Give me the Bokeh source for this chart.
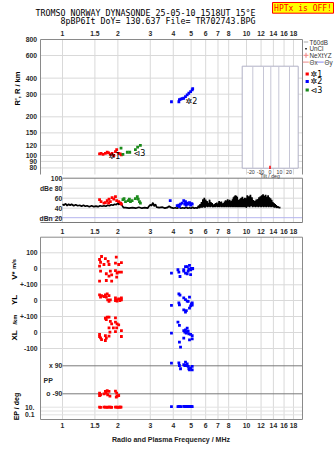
import math
from bokeh.plotting import figure
from bokeh.models import Range1d, LinearScale, LogScale
from bokeh.embed import file_html
from bokeh.resources import INLINE
from bokeh.core.properties import value

# ---------------------------------------------------------------- texts
TITLE_1 = "TROMSO NORWAY   DYNASONDE 25-05-10 1518UT 15°E"
TITLE_2 = "8pBP6It DoY= 130.637 File= TR702743.BPG"
WARNING = "HPTx is OFF!"
X_TITLE = "Radio and Plasma Frequency / MHz"

# ---------------------------------------------------------------- ticks
FREQ_TICKS = [1, 1.5, 2, 3, 4, 5, 6, 7, 8, 10, 12, 14, 16, 18]
FREQ_LABELS = ["1", "1.5", "2", "3", "4", "5", "6", "7", "8", "10", "12", "14", "16", "18"]
R_TICKS = [80, 90, 100, 120, 150, 200, 300, 400, 600, 800]
R_LABELS = ["80", "90", "100", "120", "150", "200", "300", "400", "600", "800"]
DB_TICKS = [100, 80, 60, 40, 20]
DB_LABELS = ["100", "dBe 80", "60", "40", "dBn 20"]
TILT_TICKS = [-20, -10, 0, 10, 20]
TILT_LABELS = ["-20", "-10", "0", "10", "20"]
V_TICKS = [100, 0, -100]
V_LABELS = ["100", "0", "+-100"]
YL_TICKS = [0, -100]
YL_LABELS = ["0", "+-100"]
XL_TICKS = [0, -100]
XL_LABELS = ["0", "-100"]
PP_TICKS = [90, -90]
PP_LABELS = ["x 90", "o -90"]
EP_TICKS = [10, 0.1]
EP_LABELS = ["10.", "0.1"]

# ---------------------------------------------------------------- virtual range R' (km)
E1_F = [1.59, 1.62, 1.66, 1.71, 1.75, 1.78, 1.82, 1.86, 1.90, 1.94, 1.97, 2.02, 2.06, 2.09]
E1_R = [103, 104, 102, 104, 106, 105, 102, 104, 100, 107, 111, 104, 103, 101]
E2_F = [3.91, 4.29, 4.32, 4.40, 4.47, 4.56, 4.66, 4.76, 4.86, 4.97, 5.07, 5.10]
E2_R = [262, 262, 272, 275, 277, 279, 287, 296, 305, 314, 324, 332]
E3_F = [2.08, 2.13, 2.25, 2.32, 2.49, 2.56, 2.65]
E3_R = [114, 102, 106, 106, 111, 116, 120]

# ---------------------------------------------------------------- amplitudes (dB)
NOISE_F_LOW = [1.00, 1.02, 1.04, 1.06, 1.08, 1.10, 1.12, 1.15, 1.18, 1.21, 1.24, 1.27, 1.30,
               1.33, 1.36, 1.40, 1.44, 1.48, 1.52, 1.56, 1.60, 1.64, 1.68, 1.72, 1.76, 1.80,
               1.84, 1.88, 1.92, 1.96, 2.00, 2.03, 2.06, 2.09, 2.12, 2.15, 2.20, 2.30, 2.40,
               2.50, 2.60, 2.70, 2.80, 2.90, 2.95, 3.00, 3.05, 3.10, 3.15, 3.20, 3.25, 3.35,
               3.50, 3.60, 3.70, 3.80, 3.90, 4.00, 4.10, 4.20, 4.30, 4.40, 4.50, 4.60, 4.70,
               4.80, 4.90, 5.00, 5.10, 5.20, 5.30, 5.40]
NOISE_DB_LOW = [48, 46, 49, 45, 48, 46, 48, 45, 47, 45, 46, 44, 46,
                44, 45, 43, 45, 43, 44, 43, 45, 44, 45, 44, 46, 45,
                47, 46, 48, 47, 50, 47, 52, 48, 44, 41, 41, 40, 41,
                40, 42, 40, 41, 40, 44, 47, 45, 51, 44, 48, 42, 41,
                42, 40, 41, 44, 41, 40, 41, 40, 42, 40, 41, 40, 42,
                40, 41, 40, 42, 40, 41, 40]
NOISE_F_MID = [5.50, 5.55, 5.60, 5.65, 5.70, 5.75, 5.80, 5.85, 5.90, 5.95, 6.00, 6.05, 6.10,
               6.15, 6.20, 6.25, 6.30, 6.35, 6.40, 6.45, 6.50, 6.55, 6.60, 6.65, 6.70, 6.75,
               6.80, 6.85, 6.90, 6.95, 7.00, 7.05, 7.10, 7.15, 7.20, 7.25, 7.30, 7.35, 7.40,
               7.45, 7.50, 7.55, 7.60, 7.65, 7.70, 7.75, 7.80, 7.85, 7.90, 7.95, 8.00, 8.05,
               8.10, 8.15, 8.20, 8.25, 8.30, 8.35, 8.40, 8.45, 8.50, 8.55, 8.60, 8.65, 8.70,
               8.75, 8.80, 8.85, 8.90, 8.95, 9.00, 9.05, 9.10, 9.15, 9.20, 9.25, 9.30, 9.35,
               9.40, 9.45, 9.50, 9.55, 9.60, 9.65, 9.70, 9.75, 9.80, 9.85, 9.90, 9.95]
NOISE_DB_MID = [45, 40, 48, 41, 52, 41, 58, 42, 61, 41, 57, 43, 54,
                42, 50, 43, 57, 42, 52, 43, 50, 42, 47, 43, 48, 42,
                50, 43, 51, 42, 48, 43, 54, 42, 52, 43, 53, 42, 49,
                43, 50, 42, 53, 43, 56, 42, 55, 43, 58, 42, 54, 43,
                57, 42, 53, 43, 55, 42, 58, 43, 62, 42, 64, 43, 66,
                42, 65, 43, 63, 42, 57, 43, 55, 42, 58, 43, 60, 42,
                61, 43, 63, 42, 59, 43, 58, 42, 61, 43, 60, 42]
NOISE_F_HIGH = [10.0, 10.1, 10.2, 10.3, 10.4, 10.5, 10.6, 10.7, 10.8, 10.9, 11.0, 11.1, 11.2,
                11.3, 11.4, 11.5, 11.6, 11.7, 11.8, 11.9, 12.0, 12.1, 12.2, 12.3, 12.4, 12.5,
                12.6, 12.7, 12.8, 12.9, 13.0, 13.1, 13.2, 13.3, 13.4, 13.5, 13.6, 13.7, 13.8,
                13.9, 14.0, 14.1, 14.2, 14.3, 14.4, 14.5, 14.6, 14.8, 15.0, 15.3]
NOISE_DB_HIGH = [42, 66, 43, 64, 42, 67, 44, 62, 42, 56, 43, 54, 42,
                 57, 43, 58, 42, 62, 43, 64, 42, 66, 43, 68, 42, 65,
                 43, 67, 42, 63, 43, 66, 42, 62, 43, 60, 42, 57, 43,
                 52, 42, 50, 41, 48, 42, 46, 41, 43, 41, 41]
NOISE_F = NOISE_F_LOW + NOISE_F_MID + NOISE_F_HIGH
NOISE_DB = NOISE_DB_LOW + NOISE_DB_MID + NOISE_DB_HIGH

E1_AF = [1.59, 1.62, 1.68, 1.71, 1.75, 1.78, 1.79, 1.82, 1.86, 1.90, 1.94, 1.97, 2.02, 2.07, 2.09]
E1_ADB = [57, 53, 50, 51, 55, 50, 58, 53, 61, 58, 63, 55, 53, 50, 48]
E2_AF = [3.85, 4.20, 4.29, 4.32, 4.38, 4.47, 4.56, 4.62, 4.66, 4.70, 4.76, 4.82, 4.90, 4.97, 5.02, 5.07]
E2_ADB = [55, 45, 46, 43, 48, 50, 55, 48, 53, 46, 50, 48, 51, 46, 49, 48]
E3_AF = [2.13, 2.16, 2.20, 2.28, 2.31, 2.34, 2.39, 2.49, 2.55, 2.58, 2.62, 2.65]
E3_ADB = [57, 59, 53, 55, 58, 53, 55, 59, 63, 58, 53, 50]

# ---------------------------------------------------------------- V* (m/s)
E1_VF = [1.63, 1.59, 1.71, 1.61, 1.59, 1.68, 1.77, 1.79, 1.96, 1.94, 2.02, 2.09, 1.61, 1.82, 1.73,
         1.79, 1.85, 1.94, 1.98, 2.02, 2.09, 1.97, 1.59, 1.73, 1.85]
E1_V = [77, 58, 64, 41, 17, 27, 46, 27, 73, 35, 27, 39, -15, -15, -31,
        -46, -38, -11, -27, -21, -21, -52, -77, -73, -77]
E2_VF = [3.91, 4.29, 4.35, 4.24, 4.56, 4.56, 4.66, 4.76, 4.90, 4.86, 4.97, 5.07, 4.82, 4.66, 4.76,
         4.97, 5.02, 5.10]
E2_V = [-27, -21, -48, -6, -6, -15, 14, 14, 21, 0, -6, 0, -15, -27, -31, -36, 2, 2]

# ---------------------------------------------------------------- YL (km)
E1_YF = [1.59, 1.61, 1.63, 1.71, 1.75, 1.79, 1.73, 1.76, 1.79, 1.82, 1.94, 1.97, 2.02, 2.05,
         2.09, 1.98, 1.68, 1.94, 2.09]
E1_YL = [35, 21, 31, 35, 42, 31, 21, 4, -6, 4, 17, 4, 10, 0, 4, -4, 25, 0, 17]
E2_YF = [4.29, 4.35, 4.56, 4.66, 4.76, 4.82, 4.90, 5.02, 5.07, 5.07, 4.97, 3.91, 4.29, 4.32,
         4.56, 4.66, 4.71, 4.90]
E2_YL = [42, 33, 17, 6, -4, -6, 21, -21, -15, -29, -33, -31, -15, -27, -58, -73, -63, -48]

# ---------------------------------------------------------------- XL (km)
E1_XF = [1.71, 1.75, 1.79, 1.73, 1.94, 1.94, 1.98, 2.02, 1.82, 1.85, 1.89, 1.79, 1.97, 1.94,
         2.09, 2.09, 1.81, 1.59, 1.59, 1.61, 1.63, 1.71, 1.73, 1.71, 1.79]
E1_XL = [89, 96, 96, 81, 92, 65, 54, 48, 69, 54, 29, 29, 29, 6, 12, -25, 2, -12, -25, -33,
         -44, -19, -35, -50, -23]
E2_XF = [4.24, 4.32, 4.56, 4.66, 4.76, 4.70, 4.82, 4.86, 4.97, 5.07, 5.07, 4.90, 4.56, 3.91,
         4.32, 4.38, 4.76, 4.62]
E2_XL = [65, 44, 12, 17, 27, -4, 8, -8, -12, -19, -40, -46, -35, -4, -60, -92, 2, 2]

# ---------------------------------------------------------------- PP (deg)
E1_PF = [1.59, 1.61, 1.68, 1.71, 1.75, 1.79, 1.76, 1.81, 1.94, 1.97, 1.98, 2.02, 1.73, 1.59, 1.96]
E1_PP = [-86, -96, -90, -75, -69, -75, -96, -105, -73, -86, -105, -101, -86, -101, -112]
E2_PF = [3.91, 4.29, 4.32, 4.38, 4.56, 4.66, 4.70, 4.76, 4.82, 4.86, 4.97, 5.07, 5.07, 4.90, 4.62]
E2_PP = [107, 109, 92, 71, 98, 113, 92, 103, 86, 71, 77, 86, 64, 64, 92]

# ---------------------------------------------------------------- EP (deg)
E1_EF = [1.59, 1.61, 1.68, 1.71, 1.74, 1.77, 1.80, 1.83, 1.85, 1.94, 1.97, 2.00, 2.03, 2.06, 2.08]
E1_EP = [10, 9, 11, 10, 9, 10, 11, 10, 9, 10, 11, 9, 10, 11, 10]
E2_EF = [3.91, 4.24, 4.29, 4.35, 4.40, 4.56, 4.62, 4.66, 4.70, 4.76, 4.82, 4.86, 4.90, 4.97, 5.02, 5.07]
E2_EP = [15, 15, 16, 15, 15, 16, 15, 17, 15, 16, 15, 17, 16, 15, 16, 15]

assert len(NOISE_F) == len(NOISE_DB)

# ================================================================ layout geometry (px)
W, H = 335, 451
FX0, FPD = 62.0, 184.0            # x of 1 MHz, px per decade
XL_, XR_ = 40.0, 302.0            # frame left / right
R_Y100, R_PPD = 155.0, 128.5
R_TOP, R_BOT = 39.0, 174.0
DB_Y100, DB_PPU = 177.7, 0.5
DB_BOT = 222.0
LO_TOP, LO_BOT = 236.7, 419.0
V_Y0, YL_Y0, XL_Y0, VEL_PPU = 268.3, 300.0, 332.0, 0.16
PP_YM90, PP_PPU = 393.3, 28.0 / 180.0
EP_Y10, EP_PPD = 406.7, 3.8
TILT_X0, TILT_PPU = 269.5, 0.95

RED, BLUE, GREEN = "#ff0000", "#0000ff", "#1a8a1a"
GRID, FRAME, DARK = "#d9d9d9", "#8a8a8a", "#7a7a7a"
LAB = "#2a2a2a"


def lin_y(y_ref, v_ref, ppu):
    return Range1d(v_ref - (H - y_ref) / ppu, v_ref + y_ref / ppu)


def log_y(y_ref, lv_ref, ppd):
    return Range1d(10 ** (lv_ref - (H - y_ref) / ppd), 10 ** (lv_ref + y_ref / ppd))


p = figure(width=W, height=H, output_backend="svg", toolbar_location=None, tools="",
           x_axis_type="log",
           x_range=Range1d(10 ** (-FX0 / FPD), 10 ** ((W - FX0) / FPD)),
           y_range=Range1d(H, 0),
           x_axis_location=None, y_axis_location=None, min_border=0,
           outline_line_color=None, background_fill_color="white",
           border_fill_color="white")
p.grid.visible = False

p.extra_x_ranges = {"px": Range1d(0, W),
                    "tilt": Range1d(-TILT_X0 / TILT_PPU, (W - TILT_X0) / TILT_PPU)}
p.extra_x_scales = {"px": LinearScale(), "tilt": LinearScale()}
p.extra_y_ranges = {"r": log_y(R_Y100, 2.0, R_PPD),
                    "db": lin_y(DB_Y100, 100.0, DB_PPU),
                    "v": lin_y(V_Y0, 0.0, VEL_PPU),
                    "yl": lin_y(YL_Y0, 0.0, VEL_PPU),
                    "xl": lin_y(XL_Y0, 0.0, VEL_PPU),
                    "pp": lin_y(PP_YM90, -90.0, PP_PPU),
                    "ep": log_y(EP_Y10, 1.0, EP_PPD)}
p.extra_y_scales = {"r": LogScale(), "db": LinearScale(), "v": LinearScale(),
                    "yl": LinearScale(), "xl": LinearScale(), "pp": LinearScale(),
                    "ep": LogScale()}


def _kw(xr, yr):
    kw = {}
    if xr:
        kw["x_range_name"] = xr
    if yr:
        kw["y_range_name"] = yr
    return kw


def seg(x0, x1, y0, y1, color, width=1.0, xr=None, yr=None):
    p.segment(x0=x0, x1=x1, y0=y0, y1=y1, line_color=color, line_width=width, **_kw(xr, yr))


def txt(x, y, s, size=6.8, color=LAB, align="center", base="middle",
        font="Liberation Sans", style="bold", angle=0.0, xr=None, yr=None):
    if isinstance(s, list):
        n = len(s)
    else:
        n = 1
        s = [s]
    xs = x if isinstance(x, list) else [x] * n
    ys = y if isinstance(y, list) else [y] * n
    p.text(x=xs, y=ys, text=s, text_font=value(font), text_font_size=f"{size}px",
           text_font_style=style, text_color=color, text_align=align,
           text_baseline=base, angle=angle, **_kw(xr, yr))


def pts(x, y, color, yr, size=2.8):
    p.scatter(x=x, y=y, marker="square", size=size, fill_color=color, line_color=None,
              y_range_name=yr)


# ================================================================ header
txt(150, 12.5, TITLE_1, size=8.3, color="black", font="DejaVu Sans Mono", style="normal", xr="px")
txt(157.5, 20.3, TITLE_2, size=8.3, color="black", font="DejaVu Sans Mono", style="normal", xr="px")
p.quad(left=272, right=333, top=2, bottom=12.7, fill_color="#ffff00", line_color=RED,
       line_width=1, x_range_name="px")
txt(302.5, 7.6, WARNING, size=8, color=RED, font="DejaVu Sans Mono", style="normal", xr="px")
txt(FREQ_TICKS, 33.3, FREQ_LABELS)

# ================================================================ R' panel
seg(FREQ_TICKS, FREQ_TICKS, R_TOP, R_BOT, GRID)
seg(XL_, XR_, R_TICKS[:-1], R_TICKS[:-1], GRID, xr="px", yr="r")
seg(XL_, XR_, R_TOP, R_TOP, FRAME, xr="px")
seg(XL_, XL_, R_TOP, R_BOT, FRAME, xr="px")
seg(XR_, XR_, R_TOP, R_BOT, FRAME, xr="px")
txt(36.5, R_TICKS, R_LABELS, align="right", xr="px", yr="r")
txt(16.5, 88, "R', R / km", size=7.5, color="black", base="alphabetic",
    angle=math.pi / 2, xr="px")

# tilt inset
p.quad(left=241.7, right=297.7, top=65.7, bottom=167.7, fill_color="white",
       line_color="#b0b0c6", line_width=1, x_range_name="px")
seg([252.3, 263.0, 270.3, 278.3, 289.0], [252.3, 263.0, 270.3, 278.3, 289.0],
    65.7, 167.7, "#c6c6d6", xr="px")
seg(0, 0, 165.3, 168.5, RED, width=1.5, xr="tilt")
txt(TILT_TICKS, 171.0, TILT_LABELS, size=5.2, style="normal", color="#333", xr="tilt")
txt(0, 175.2, "Tilt / deg", size=5.2, style="normal", color="#333", xr="tilt")

pts(E1_F, E1_R, RED, "r")
pts(E3_F, E3_R, GREEN, "r")
pts(E2_F, E2_R, BLUE, "r")
txt(1.78, 99, "✲1", size=8, color="black", font="DejaVu Sans", style="normal",
    align="left", yr="r")
txt(2.43, 104, "⊲3", size=8, color="black", font="DejaVu Sans", style="normal",
    align="left", yr="r")
txt(4.66, 262, "✲2", size=8, color="black", font="DejaVu Sans", style="normal",
    align="left", yr="r")

# legend (right side)
seg(303.3, 307.7, 41.5, 41.5, "#aaaaaa", width=1.2, xr="px")
txt(309, 41.5, "T60dB", size=6.3, style="normal", color="#333", align="left", xr="px")
p.scatter(x=[305.5], y=[48.3], marker="square", size=1.5, fill_color="black",
          line_color=None, x_range_name="px")
txt(309, 48.3, "UnCl", size=6.3, style="normal", color="#333", align="left", xr="px")
p.scatter(x=[305.5], y=[54.8], marker="cross", size=5, line_color="#f08080",
          x_range_name="px")
txt(309, 54.8, "NeXtYZ", size=6.3, style="normal", color="#333", align="left", xr="px")
seg(302.3, 308.3, 61.7, 61.7, "#f0a0a0", width=1.2, xr="px")
txt(309, 61.7, "Θx", size=6.3, style="normal", color="#333", align="left", xr="px")
seg(316.7, 323.3, 61.7, 61.7, "#a0a0f0", width=1.2, xr="px")
txt(324, 61.7, "Θy", size=6.3, style="normal", color="#333", align="left", xr="px")
for yy, col, lab in [(73.5, RED, "✲1"), (81.0, BLUE, "✲2"), (89.5, GREEN, "⊲3")]:
    p.scatter(x=[306.7], y=[yy], marker="square", size=3.2, fill_color=col, line_color=None,
              x_range_name="px")
    txt(310, yy, lab, size=8, color="black", font="DejaVu Sans", style="normal",
        align="left", xr="px")

# ================================================================ dB panel
seg(FREQ_TICKS + [9], FREQ_TICKS + [9], DB_Y100, DB_BOT, GRID)
seg(FX0, XR_, [80, 60, 40], [80, 60, 40], GRID, xr="px", yr="db")
seg(XL_, XR_, 21, 21, "#b4b4ee", xr="px", yr="db")
seg(FX0, XR_, 100, 100, DARK, xr="px", yr="db")
seg(XL_, XR_, DB_BOT, DB_BOT, DARK, xr="px")
seg(XR_, XR_, DB_Y100, DB_BOT, FRAME, xr="px")
txt(61.7, DB_TICKS, DB_LABELS, align="right", xr="px", yr="db")
p.line(NOISE_F, NOISE_DB, line_color="black", line_width=1.7, y_range_name="db")
pts(E1_AF, E1_ADB, RED, "db")
pts(E3_AF, E3_ADB, GREEN, "db")
pts(E2_AF, E2_ADB, BLUE, "db")
txt(FREQ_TICKS, 230.7, FREQ_LABELS)

# ================================================================ lower panel
seg(FREQ_TICKS, FREQ_TICKS, LO_TOP, LO_BOT, GRID)
seg(XL_, XR_, V_TICKS, V_TICKS, GRID, xr="px", yr="v")
seg(XL_, XR_, YL_TICKS, YL_TICKS, GRID, xr="px", yr="yl")
seg(XL_, XR_, XL_TICKS, XL_TICKS, GRID, xr="px", yr="xl")
seg(XL_, XR_, [10, 1, 0.1], [10, 1, 0.1], "#e2e2e2", xr="px", yr="ep")
seg(FX0, XR_, PP_TICKS, PP_TICKS, DARK, xr="px", yr="pp")
p.quad(left=XL_, right=XR_, top=LO_TOP, bottom=LO_BOT, fill_color=None, line_color=FRAME,
       line_width=1, x_range_name="px")

txt(37, V_TICKS, V_LABELS, align="right", xr="px", yr="v")
txt(37, YL_TICKS, YL_LABELS, align="right", xr="px", yr="yl")
txt(37, XL_TICKS, XL_LABELS, align="right", xr="px", yr="xl")
txt(61.7, PP_TICKS, PP_LABELS, align="right", xr="px", yr="pp")
txt(43, 379.5, "PP", size=7, align="left", xr="px")
txt(34, EP_TICKS, EP_LABELS, align="right", xr="px", yr="ep")

txt(13.8, 275, "V*", size=8, color="black", base="alphabetic", angle=math.pi / 2, xr="px")
txt(13.8, 263.5, "m/s", size=5.8, color="black", base="alphabetic", angle=math.pi / 2, xr="px")
txt(14, 299.5, "YL", size=8, color="black", base="alphabetic", angle=math.pi / 2, xr="px")
txt(14, 335, "XL", size=8, color="black", base="alphabetic", angle=math.pi / 2, xr="px")
txt(14, 319, "/km", size=5.8, color="black", base="alphabetic", angle=math.pi / 2, xr="px")
txt(16, 406, "EP / deg", size=7, color="black", base="alphabetic", angle=math.pi / 2, xr="px")

pts(E1_VF, E1_V, RED, "v")
pts(E2_VF, E2_V, BLUE, "v")
pts(E1_YF, E1_YL, RED, "yl")
pts(E2_YF, E2_YL, BLUE, "yl")
pts(E1_XF, E1_XL, RED, "xl")
pts(E2_XF, E2_XL, BLUE, "xl")
pts(E1_PF, E1_PP, RED, "pp")
pts(E2_PF, E2_PP, BLUE, "pp")
pts(E1_EF, E1_EP, RED, "ep")
pts(E2_EF, E2_EP, BLUE, "ep")

txt(FREQ_TICKS, 425.3, FREQ_LABELS)
txt(170.5, 439, X_TITLE, size=7, color="#222", xr="px")

open("out.html", "w").write(file_html(p, INLINE))
